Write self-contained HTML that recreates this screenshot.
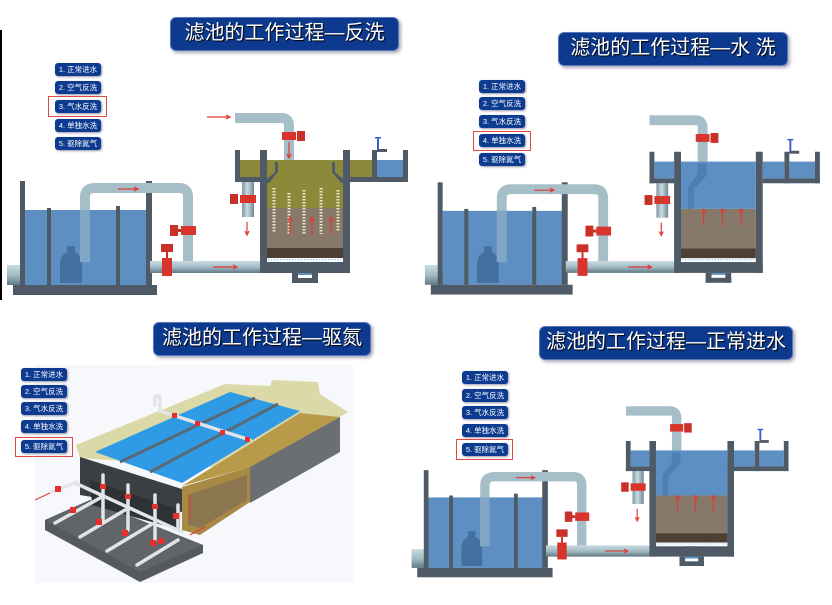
<!DOCTYPE html>
<html><head><meta charset="utf-8">
<style>
html,body{margin:0;padding:0;background:#fff;}
body{width:832px;height:605px;position:relative;overflow:hidden;font-family:"Liberation Sans","Noto Sans CJK SC",sans-serif;}
.t{position:absolute;background:#0d3a8e;border:1px solid #5a78b8;border-radius:6px;color:#fff;font-family:"Liberation Sans","Noto Sans CJK SC",sans-serif;font-size:20px;line-height:31px;text-align:center;box-shadow:2px 2px 3px #aab;text-shadow:1px 1px 1px #000;white-space:nowrap;overflow:hidden;}
.b{position:absolute;width:46px;height:13px;background:#0c3b90;border-radius:3px;color:#fff;font-size:7.5px;line-height:13px;text-align:center;box-shadow:1px 1px 2px #99a;white-space:nowrap;}
.r{position:absolute;border:1.5px solid #e04848;}
svg{position:absolute;left:0;top:0;}
</style></head><body>
<svg width="832" height="605" viewBox="0 0 832 605">
<defs>
<linearGradient id="pv" x1="0" x2="1"><stop offset="0" stop-color="#7d97a3"/><stop offset=".45" stop-color="#c9dbe2"/><stop offset="1" stop-color="#6f8893"/></linearGradient>
<linearGradient id="ph" x1="0" y1="0" x2="0" y2="1"><stop offset="0" stop-color="#c9dbe2"/><stop offset=".5" stop-color="#a3bcc6"/><stop offset="1" stop-color="#5f7883"/></linearGradient>
<g id="base">
 <rect x="7" y="265" width="25" height="20" fill="url(#ph)"/>
 <rect x="25" y="210" width="122" height="75" fill="#5e8fc3"/>
 <path d="M60,283 L60,265 Q60,255 67,252 L67,246 L75,246 L75,252 Q82,255 82,265 L82,283 Z" fill="#44709f"/>
 <rect x="20" y="181" width="5" height="104" fill="#4e5b66"/>
 <rect x="47" y="208" width="4" height="77" fill="#4e5b66"/>
 <rect x="116" y="206" width="4" height="79" fill="#4e5b66"/>
 <rect x="146" y="181" width="6" height="104" fill="#4e5b66"/>
 <rect x="13" y="285" width="144" height="10" fill="#4e5b66"/>
 <path d="M85,262 V197 Q85,188 95,188 H179 Q188,188 188,197 V262" fill="none" stroke="#a5bec8" stroke-width="10"/>
 <rect x="80" y="210" width="10" height="52" fill="#5e8fc3" opacity=".5"/>
 <rect x="150" y="261" width="112" height="12" fill="url(#ph)"/>
 <rect x="181" y="226" width="15" height="9" fill="#d8342c"/><rect x="170" y="225" width="8" height="11" fill="#c9302a"/><rect x="177" y="229" width="4" height="3" fill="#c9302a"/>
 <rect x="162" y="258" width="10" height="18" fill="#d8342c"/><rect x="161" y="244" width="12" height="8" fill="#c9302a"/><rect x="166" y="252" width="2" height="6" fill="#c9302a"/>
 <path d="M235,118 H282 Q289,118 289,126 V162" fill="none" stroke="#a5bec8" stroke-width="10"/>
 <rect x="282" y="132" width="14" height="8" fill="#d8342c"/><rect x="297" y="131" width="8" height="10" fill="#c9302a"/>
 <rect x="242" y="182" width="12" height="35" fill="url(#pv)"/>
 <rect x="240" y="195" width="16" height="8" fill="#d8342c"/><rect x="230" y="194" width="8" height="10" fill="#c9302a"/>
 <rect x="267" y="208" width="76" height="40" fill="#86796a"/>
 <rect x="267" y="248" width="76" height="10" fill="#4d4033"/>
 <line x1="268" y1="259.5" x2="343" y2="259.5" stroke="#9cc8f0" stroke-width="1.2" stroke-dasharray="1.5,1.5"/>
 <rect x="298" y="262" width="14" height="13" fill="#5e8fc3"/>
 <rect x="377" y="160" width="26" height="17" fill="#5e8fc3"/>
 <rect x="377" y="138" width="2" height="11" fill="#3a5fd0"/><rect x="375" y="137" width="6" height="1.5" fill="#3a5fd0"/>
 <rect x="377" y="149" width="10" height="3" fill="#4e5b66"/>
 <g fill="#4e5b66">
 <rect x="235" y="150" width="5" height="32"/>
 <rect x="235" y="177" width="27" height="5"/>
 <rect x="260" y="150" width="7" height="123"/>
 <rect x="343" y="150" width="7" height="123"/>
 <rect x="350" y="177" width="58" height="5"/>
 <rect x="372" y="150" width="5" height="32"/>
 <rect x="403" y="150" width="5" height="32"/>
 <rect x="262" y="262" width="88" height="11"/>
 <rect x="292" y="273" width="6" height="10"/><rect x="312" y="273" width="6" height="10"/><rect x="292" y="278" width="26" height="5"/>
 <path d="M275,162 h3 v10 l-9,11 h-2 v-4 l8,-7z"/>
 <path d="M332,162 h3 v10 l8,7 v4 h-2 l-9,-11z"/>
 </g>
 <g stroke="#e03a34" stroke-width="1.2" fill="none">
 <path d="M118,189 h20 m-4,-2 l4,2 -4,2"/>
 <path d="M213,267 h24 m-4,-2 l4,2 -4,2"/>
 <path d="M247,222 v13 m-2,-4 l2,4 2,-4"/>
 </g>
</g>
<g id="wat">
 <rect x="240" y="160" width="20" height="17" fill="#5e8fc3"/>
 <rect x="267" y="160" width="76" height="48" fill="#5e8fc3"/>
 <rect x="350" y="160" width="22" height="17" fill="#5e8fc3"/>
 <path d="M284,162 V172 L274,186 V208 H280 V188 L293,174 V162Z" fill="#4a7ab0" opacity=".8"/>
 <g stroke="#e03a34" stroke-width="1.2" fill="none">
 <path d="M290,225 v-17 m-2,4 l2,-4 2,4"/><path d="M309,225 v-17 m-2,4 l2,-4 2,4"/><path d="M328,225 v-17 m-2,4 l2,-4 2,4"/>
 </g>
</g>
</defs>

<line x1="1" y1="30" x2="1" y2="300" stroke="#000" stroke-width="2"/>

<use href="#base"/>
<g>
 <rect x="240" y="160" width="20" height="17" fill="#8c8a3a"/>
 <rect x="267" y="160" width="76" height="48" fill="#8c8a3a"/>
 <rect x="350" y="160" width="22" height="17" fill="#8c8a3a"/>
 <path d="M275,162 h3 v10 l-9,11 h-2 v-4 l8,-7z M332,162 h3 v10 l8,7 v4 h-2 l-9,-11z" fill="#4e5b66"/>
 <g fill="none" stroke="#e6e8c8" stroke-width="3" stroke-dasharray="1.5,1.5">
  <path d="M274,188 L274,232"/><path d="M289,193 L289,234"/><path d="M304,190 L304,234"/><path d="M321,188 L321,234"/><path d="M338,190 L338,232"/>
 </g>
 <g stroke="#e03a34" stroke-width="1.2" fill="none">
 <path d="M207,117 h23 m-4,-2 l4,2 -4,2"/>
 <path d="M289,142 v16 m-2,-4 l2,4 2,-4"/>
 <path d="M290,234 v-17 m-2,4 l2,-4 2,4"/><path d="M312,234 v-17 m-2,4 l2,-4 2,4"/><path d="M331,234 v-17 m-2,4 l2,-4 2,4"/>
 </g>
</g>

<g transform="translate(418,4) scale(0.985)"><use href="#base"/><use href="#wat"/></g>
<g transform="translate(405,300) scale(0.94)"><use href="#base"/><use href="#wat"/></g>

<!-- bottom-left 3D -->
<rect x="35" y="365" width="318" height="218" fill="#f6f8fb"/>
<polygon points="45,520 90,500 203,545 203,553 140,582 45,530" fill="#55595d"/>
<polygon points="45,520 90,500 203,545 140,572" fill="#616569"/>
<polygon points="76,445 225,384 270,386 272,380 318,382 320,394 348,412 252,470 80,458" fill="#dcd9a8"/>
<polygon points="95,452 230,392 300,411 182,483" fill="#2f9be6"/>
<g stroke="#5a6a74" stroke-width="3"><line x1="120" y1="462" x2="255" y2="398"/><line x1="150" y1="472" x2="278" y2="404"/></g>
<polygon points="182,486 300,413 340,417 250,467" fill="#b89a48"/>
<polygon points="80,457 182,489 182,512 80,495" fill="#3c3f42"/>
<polygon points="90,480 180,510 180,530 92,505" fill="#2f3234"/>
<polygon points="182,487 250,467 250,502 200,535 182,530" fill="#a88a45"/>
<polygon points="188,495 247,475 247,500 200,528 188,525" fill="#8b7650"/>
<polygon points="250,467 340,417 340,452 250,503" fill="#6c6f72"/>
<g stroke="#e2e4e6" stroke-width="3.5" stroke-linecap="round">
 <line x1="55" y1="523" x2="100" y2="498"/><line x1="80" y1="537" x2="125" y2="510"/><line x1="107" y1="551" x2="152" y2="524"/><line x1="137" y1="565" x2="178" y2="540"/>
 <line x1="75" y1="483" x2="182" y2="532"/><line x1="52" y1="492" x2="77" y2="482"/>
 <line x1="103" y1="475" x2="103" y2="520"/><line x1="128" y1="485" x2="128" y2="530"/><line x1="155" y1="495" x2="155" y2="540"/><line x1="178" y1="505" x2="178" y2="530"/>
 <path d="M155,405 V397 Q157,395 160,397 V411 L250,440" fill="none"/>
</g>
<g fill="#e53030">
 <rect x="55" y="486" width="6" height="6"/><rect x="100" y="484" width="6" height="5"/><rect x="125" y="494" width="6" height="5"/><rect x="152" y="504" width="6" height="5"/>
 <rect x="70" y="507" width="6" height="6"/><rect x="96" y="519" width="6" height="6"/><rect x="122" y="530" width="6" height="6"/><rect x="150" y="540" width="6" height="6"/>
 <rect x="173" y="513" width="6" height="6"/><rect x="158" y="538" width="6" height="6"/>
 <rect x="172" y="413" width="5" height="5"/><rect x="195" y="421" width="5" height="5"/><rect x="220" y="430" width="5" height="5"/><rect x="245" y="437" width="5" height="5"/>
</g>
<g stroke="#e03a34" stroke-width="1" fill="none"><path d="M35,500 l15,-7"/><path d="M190,535 l15,-8"/><path d="M190,520 v-25"/></g>
</svg>

<div class="t" style="left:170px;top:17px;width:227px;height:32px;">滤池的工作过程—反洗</div>
<div class="t" style="left:558px;top:32px;width:228px;height:32px;">滤池的工作过程—水 洗</div>
<div class="t" style="left:153px;top:322px;width:216px;height:32px;">滤池的工作过程—驱氮</div>
<div class="t" style="left:539px;top:326px;width:252px;height:32px;">滤池的工作过程—正常进水</div>

<div class="b" style="left:55px;top:63px">1. 正常进水</div>
<div class="b" style="left:55px;top:81px">2. 空气反洗</div>
<div class="b" style="left:55px;top:100px">3. 气水反洗</div>
<div class="b" style="left:55px;top:119px">4. 单独水洗</div>
<div class="b" style="left:55px;top:137px">5. 驱除氮气</div>
<div class="r" style="left:48px;top:96px;width:57px;height:19px"></div>

<div class="b" style="left:479px;top:80px">1. 正常进水</div>
<div class="b" style="left:479px;top:97px">2. 空气反洗</div>
<div class="b" style="left:479px;top:115px">3. 气水反洗</div>
<div class="b" style="left:479px;top:134px">4. 单独水洗</div>
<div class="b" style="left:479px;top:153px">5. 驱除氮气</div>
<div class="r" style="left:473px;top:131px;width:56px;height:18px"></div>

<div class="b" style="left:21px;top:368px">1. 正常进水</div>
<div class="b" style="left:21px;top:385px">2. 空气反洗</div>
<div class="b" style="left:21px;top:402px">3. 气水反洗</div>
<div class="b" style="left:21px;top:420px">4. 单独水洗</div>
<div class="b" style="left:21px;top:440px">5. 驱除氮气</div>
<div class="r" style="left:15px;top:437px;width:56px;height:18px"></div>

<div class="b" style="left:462px;top:371px">1. 正常进水</div>
<div class="b" style="left:462px;top:389px">2. 空气反洗</div>
<div class="b" style="left:462px;top:406px">3. 气水反洗</div>
<div class="b" style="left:462px;top:424px">4. 单独水洗</div>
<div class="b" style="left:462px;top:443px">5. 驱除氮气</div>
<div class="r" style="left:456px;top:439px;width:55px;height:19px"></div>
</body></html>
